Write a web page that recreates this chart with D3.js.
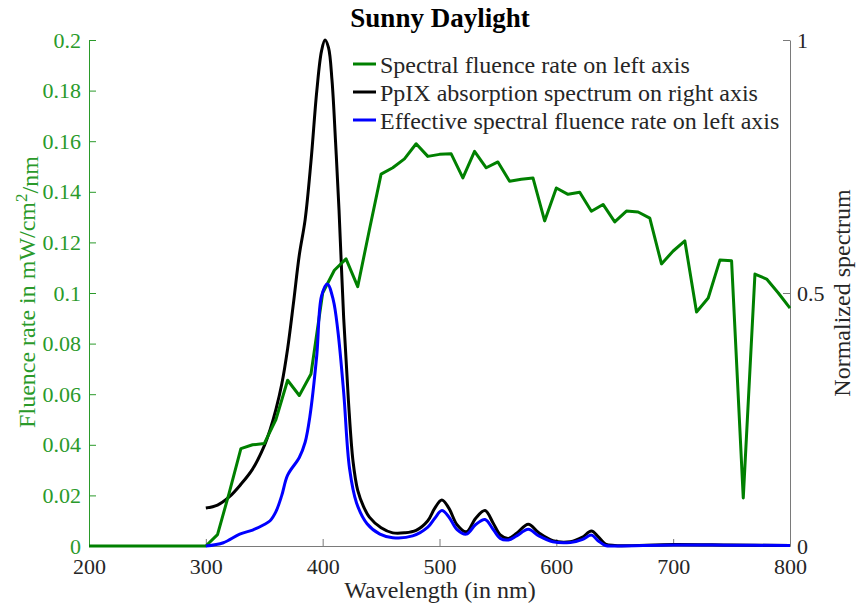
<!DOCTYPE html>
<html>
<head>
<meta charset="utf-8">
<script src="https://cdn.jsdelivr.net/npm/d3@7"></script>
<style>
  html, body { margin: 0; padding: 0; background: #fff; }
  svg { display: block; font-family: "Liberation Serif", "Times New Roman", serif; }
  svg text { font-family: "Liberation Serif", "Times New Roman", serif; }
</style>
</head>
<body>
<svg id="chart" width="856" height="610"></svg>
<script>
// ---------------- DATA ----------------
const titleText = "Sunny Daylight";
const xLabel = "Wavelength (in nm)";
const rightLabel = "Normalized spectrum";
const legendLabels = [
  "Spectral fluence rate on left axis",
  "PpIX absorption spectrum on right axis",
  "Effective spectral fluence rate on left axis"
];

const xTicks = [200, 300, 400, 500, 600, 700, 800];
const xTickLabels = ["200", "300", "400", "500", "600", "700", "800"];
const leftTicks = [0, 0.02, 0.04, 0.06, 0.08, 0.1, 0.12, 0.14, 0.16, 0.18, 0.2];
const leftTickLabels = ["0", "0.02", "0.04", "0.06", "0.08", "0.1", "0.12", "0.14", "0.16", "0.18", "0.2"];
const rightTicks = [0, 0.5, 1];
const rightTickLabels = ["0", "0.5", "1"];

// Spectral fluence rate (left axis, mW/cm^2/nm)
const greenWavelength = [200, 210, 220, 230, 240, 250, 260, 270, 280, 290,
  300, 310, 320, 330, 340, 350, 360, 370, 380, 390,
  400, 410, 420, 430, 440, 450, 460, 470, 480, 490,
  500, 510, 520, 530, 540, 550, 560, 570, 580, 590,
  600, 610, 620, 630, 640, 650, 660, 670, 680, 690,
  700, 710, 720, 730, 740, 750, 760, 770, 780, 790, 800];
const greenValue = [0, 0, 0, 0, 0, 0, 0, 0, 0, 0,
  0, 0.0045, 0.021, 0.0385, 0.040, 0.0405, 0.050, 0.0655, 0.0595, 0.068,
  0.100, 0.109, 0.1135, 0.1025, 0.125, 0.147, 0.1495, 0.153, 0.159, 0.154,
  0.1548, 0.155, 0.1455, 0.156, 0.1495, 0.1518, 0.1442, 0.145, 0.1455, 0.1285,
  0.1415, 0.139, 0.1398, 0.1323, 0.135, 0.1281, 0.1324, 0.132, 0.1296, 0.1115,
  0.1166, 0.1206, 0.0925, 0.098, 0.113, 0.1127, 0.019, 0.1075, 0.1055, 0.100, 0.094];

// PpIX absorption spectrum (right axis, normalized)
const blackWavelength = [300, 310, 320, 330, 340, 350, 355, 360, 365, 370, 375, 380, 385, 390, 395, 399, 402, 405, 408, 411, 414, 418, 422, 426, 430, 435, 440, 450, 460, 470, 480, 490, 496, 502, 508, 515, 523, 531, 539, 546, 552, 559, 566, 576, 585, 597, 612, 622, 630, 636, 642, 650, 700, 750, 800];
const blackValue = [0.075, 0.081, 0.097, 0.122, 0.152, 0.198, 0.23, 0.27, 0.32, 0.39, 0.48, 0.575, 0.645, 0.76, 0.90, 0.978, 1.0, 0.985, 0.92, 0.80, 0.664, 0.45, 0.289, 0.167, 0.11, 0.078, 0.057, 0.036, 0.026, 0.026, 0.031, 0.05, 0.075, 0.091, 0.075, 0.042, 0.028, 0.055, 0.07, 0.045, 0.022, 0.015, 0.025, 0.043, 0.026, 0.0105, 0.0085, 0.017, 0.0296, 0.018, 0.004, 0.001, 0.003, 0.002, 0.001];

// Effective spectral fluence rate (left axis)
const blueWavelength = [300, 315, 329, 340, 350, 355, 360, 365, 370, 380, 385, 389, 395, 399, 404, 409, 413, 418, 423, 429, 438, 449, 460, 477, 490, 496, 502, 508, 515, 523, 531, 539, 546, 552, 559, 566, 576, 585, 597, 612, 622, 630, 636, 642, 650, 700, 750, 800];
const blueValue = [0, 0.0013, 0.0047, 0.0063, 0.0085, 0.010, 0.0136, 0.02, 0.028, 0.035, 0.041, 0.051, 0.0756, 0.0988, 0.1036, 0.0974, 0.0851, 0.0606, 0.0306, 0.017, 0.0088, 0.0047, 0.0033, 0.004, 0.0075, 0.011, 0.014, 0.0115, 0.0065, 0.0047, 0.0085, 0.0105, 0.0065, 0.003, 0.0024, 0.004, 0.0066, 0.004, 0.0017, 0.0014, 0.0025, 0.0043, 0.002, 0.0002, 0, 0.0004, 0.0003, 0.0002];

// ---------------- CHART ----------------
const svg = d3.select("#chart");
const FONT = "'Liberation Serif', 'Times New Roman', serif";
const green = "rgb(0,128,0)";
const axisGreen = "#2a9a2a";
const axisGray = "#7a7a7a";
const textDark = "#262626";

const x = d3.scaleLinear().domain([200, 800]).range([89, 790]);
const yL = d3.scaleLinear().domain([0, 0.2]).range([546, 40]);
const yR = d3.scaleLinear().domain([0, 1]).range([546, 40]);

function styleAxis(g, lineColor, textColor) {
  g.attr("font-family", FONT).attr("font-size", 22);
  g.select(".domain").attr("stroke", lineColor);
  g.selectAll(".tick line").attr("stroke", lineColor);
  g.selectAll(".tick text").attr("fill", textColor)
    .attr("font-family", FONT).attr("font-size", 22);
}

// bottom axis
const gx = svg.append("g").attr("transform", "translate(0,546)")
  .call(d3.axisBottom(x).tickValues(xTicks).tickFormat((d, i) => xTickLabels[i])
    .tickSizeInner(-7).tickSizeOuter(0).tickPadding(12));
styleAxis(gx, axisGray, textDark);

// left axis
const gl = svg.append("g").attr("transform", "translate(89,0)")
  .call(d3.axisLeft(yL).tickValues(leftTicks).tickFormat((d, i) => leftTickLabels[i])
    .tickSizeInner(-7).tickSizeOuter(0).tickPadding(8));
styleAxis(gl, axisGreen, axisGreen);

// right axis
const gr = svg.append("g").attr("transform", "translate(790,0)")
  .call(d3.axisRight(yR).tickValues(rightTicks).tickFormat((d, i) => rightTickLabels[i])
    .tickSizeInner(-7).tickSizeOuter(0).tickPadding(7));
styleAxis(gr, axisGray, textDark);

// curves
const blackData = blackWavelength.map((w, i) => [w, blackValue[i]]);
const greenData = greenWavelength.map((w, i) => [w, greenValue[i]]);
const blueData = blueWavelength.map((w, i) => [w, blueValue[i]]);

const lineR = d3.line().x(d => x(d[0])).y(d => yR(d[1])).curve(d3.curveCatmullRom.alpha(0.5));
const lineLsmooth = d3.line().x(d => x(d[0])).y(d => yL(d[1])).curve(d3.curveCatmullRom.alpha(0.5));
const lineL = d3.line().x(d => x(d[0])).y(d => yL(d[1]));

svg.append("path").datum(blackData).attr("d", lineR)
  .attr("fill", "none").attr("stroke", "#000").attr("stroke-width", 3).attr("stroke-linejoin", "round");
svg.append("path").datum(greenData).attr("d", lineL)
  .attr("fill", "none").attr("stroke", green).attr("stroke-width", 3).attr("stroke-linejoin", "round");
svg.append("path").datum(blueData).attr("d", lineLsmooth)
  .attr("fill", "none").attr("stroke", "#0000ff").attr("stroke-width", 3).attr("stroke-linejoin", "round");

// title
svg.append("text").attr("x", 440).attr("y", 27).attr("text-anchor", "middle")
  .attr("font-family", FONT).attr("font-weight", "bold").attr("font-size", 27).attr("fill", "#000").text(titleText);

// x label
svg.append("text").attr("x", 440).attr("y", 598).attr("text-anchor", "middle")
  .attr("font-family", FONT).attr("font-size", 24).attr("fill", textDark).text(xLabel);

// left y label with superscript
const ly = svg.append("text").attr("transform", "translate(35,292) rotate(-90)")
  .attr("font-family", FONT).attr("text-anchor", "middle").attr("font-size", 24).attr("fill", axisGreen);
ly.append("tspan").text("Fluence rate in mW/cm");
ly.append("tspan").attr("dy", "-0.45em").attr("font-size", 17).text("2");
ly.append("tspan").attr("dy", "0.45em").text("/nm");

// right y label
svg.append("text").attr("transform", "translate(850,293) rotate(-90)")
  .attr("font-family", FONT).attr("text-anchor", "middle").attr("font-size", 24).attr("fill", textDark).text(rightLabel);

// legend
const legendColors = [green, "#000", "#0000ff"];
const legendRows = [64, 92, 120];
legendLabels.forEach((lab, i) => {
  svg.append("line").attr("x1", 353).attr("x2", 376)
    .attr("y1", legendRows[i]).attr("y2", legendRows[i])
    .attr("stroke", legendColors[i]).attr("stroke-width", 3);
  svg.append("text").attr("x", 380).attr("y", legendRows[i] + 9)
    .attr("font-family", FONT).attr("font-size", 24).attr("fill", textDark).text(lab);
});
</script>
</body>
</html>
